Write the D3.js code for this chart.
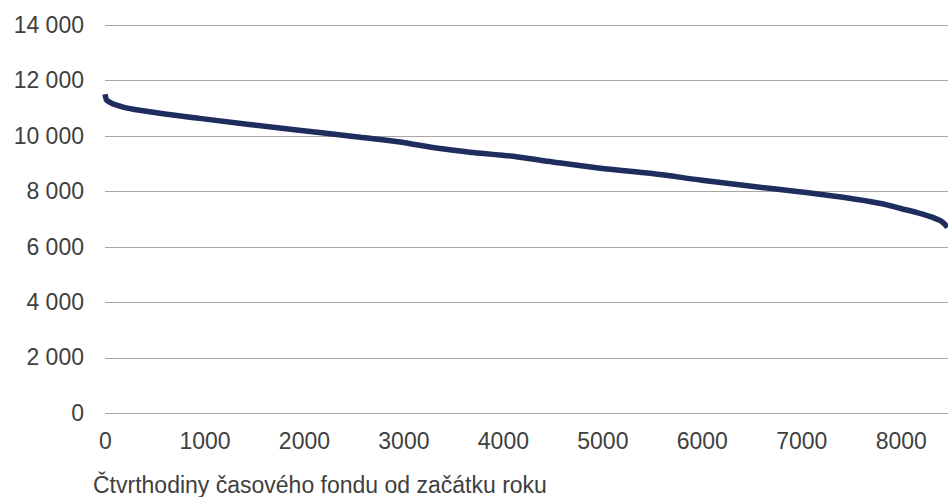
<!DOCTYPE html>
<html>
<head>
<meta charset="utf-8">
<script src="https://cdn.jsdelivr.net/npm/d3@7"></script>
<style>
  html, body { margin: 0; padding: 0; background: #fff; }
  svg { display: block; font-family: "Liberation Sans", Arial, sans-serif; }
</style>
</head>
<body>
<svg id="chart" width="948" height="497"></svg>
<script>
// Data
const xIndex = [0, 15, 50, 150, 450, 950, 1450, 1950, 2500, 2950, 3350, 3700, 4150, 4500, 5000, 5500, 6000, 6500, 7000, 7500, 7800, 8000, 8200, 8350, 8420, 8470];
const loadValues = [11500, 11300, 11210, 11070, 10870, 10630, 10410, 10200, 9980, 9785, 9550, 9400, 9240, 9060, 8820, 8640, 8400, 8180, 7975, 7740, 7560, 7380, 7195, 7014, 6890, 6700];
const yTicks = [0, 2000, 4000, 6000, 8000, 10000, 12000, 14000];
const xTicks = [0, 1000, 2000, 3000, 4000, 5000, 6000, 7000, 8000];
const xTitle = "Čtvrthodiny časového fondu od začátku roku";

(function () {
const data = xIndex.map((x, i) => ({ x, y: loadValues[i] }));

const svg = d3.select("#chart");
const mLeft = 105, mRight = 948, mTop = 25, mBottom = 413;

const x = d3.scaleLinear().domain([0, 8475]).range([mLeft, mRight]);
const y = d3.scaleLinear().domain([0, 14000]).range([mBottom, mTop]);

const fmt = v => d3.format(",")(v).replace(/,/g, " ");
const font = "'Liberation Sans', Arial, sans-serif";

// gridlines + y labels
const yAxis = d3.axisLeft(y).tickValues(yTicks).tickSize(-(mRight - mLeft)).tickPadding(21).tickFormat(fmt);
const gy = svg.append("g").attr("transform", `translate(${mLeft},0)`).call(yAxis);
gy.select(".domain").remove();
gy.selectAll(".tick line").attr("stroke", "#a6a6a6").attr("stroke-width", 1).attr("shape-rendering", "crispEdges");
gy.selectAll(".tick text").attr("fill", "#404040").attr("font-size", "23px").attr("font-family", font);

// x labels
const xAxis = d3.axisBottom(x).tickValues(xTicks).tickSize(0).tickPadding(20).tickFormat(d3.format("d"));
const gx = svg.append("g").attr("transform", `translate(0,${mBottom})`).call(xAxis);
gx.select(".domain").remove();
gx.selectAll(".tick text").attr("fill", "#404040").attr("font-size", "23px").attr("font-family", font);

// line
const line = d3.line().x(d => x(d.x)).y(d => y(d.y)).curve(d3.curveMonotoneX);
svg.append("path").datum(data)
  .attr("fill", "none")
  .attr("stroke", "#1f2c5e")
  .attr("stroke-width", 5.5)
  .attr("stroke-linejoin", "round")
  .attr("d", line);

// axis title
svg.append("text")
  .attr("x", 93).attr("y", 493)
  .attr("fill", "#404040")
  .attr("font-size", "23px")
  .attr("font-family", font)
  .text(xTitle);
})();
</script>
</body>
</html>
